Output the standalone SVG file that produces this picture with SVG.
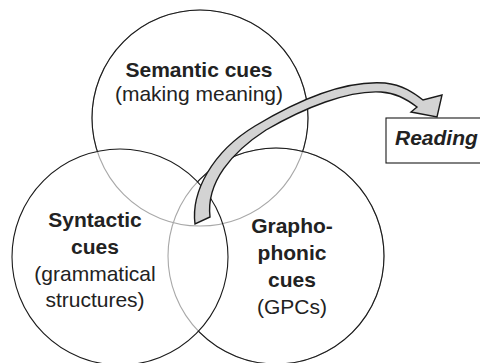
<svg xmlns="http://www.w3.org/2000/svg" width="480" height="363" viewBox="0 0 480 363">
<style>
.c{fill:none;stroke-width:1.1}
.g{stroke:#a8a8a8}
.k{stroke:#1a1a1a}
.t{font-family:"Liberation Sans",Arial,sans-serif;font-size:21px;fill:#222;text-anchor:middle}
.b{font-weight:bold}
</style>
<defs>
<mask id="mTop" maskUnits="userSpaceOnUse" x="0" y="0" width="480" height="363">
<rect width="480" height="363" fill="#fff"/>
<circle cx="276" cy="256" r="108" fill="#000"/>
<circle cx="120" cy="257" r="108" fill="#000"/>
</mask>
<mask id="mRight" maskUnits="userSpaceOnUse" x="0" y="0" width="480" height="363">
<rect width="480" height="363" fill="#fff"/>
<circle cx="120" cy="257" r="108" fill="#000"/>
</mask>
</defs>
<rect width="480" height="363" fill="#fff"/>
<g id="semantic">
<circle class="c g" cx="200" cy="118" r="108"/>
<circle class="c k" cx="200" cy="118" r="108" mask="url(#mTop)"/>
<text class="t b" x="199" y="77">Semantic cues</text>
<text class="t" x="199" y="101">(making meaning)</text>
</g>
<g id="graphophonic">
<circle class="c g" cx="276" cy="256" r="108"/>
<circle class="c k" cx="276" cy="256" r="108" mask="url(#mRight)"/>
<text class="t b" x="292" y="233">Grapho-</text>
<text class="t b" x="292" y="260">phonic</text>
<text class="t b" x="292" y="287">cues</text>
<text class="t" x="292" y="314">(GPCs)</text>
</g>
<g id="syntactic">
<circle class="c k" cx="120" cy="257" r="108"/>
<text class="t b" x="95" y="227">Syntactic</text>
<text class="t b" x="95" y="254">cues</text>
<text class="t" x="95" y="281">(grammatical</text>
<text class="t" x="95" y="307">structures)</text>
</g>
<g id="reading">
<rect x="386" y="118" width="110" height="45" fill="#fff" stroke="#1a1a1a" stroke-width="1.1"/>
<text class="t b" x="395" y="145" style="text-anchor:start;font-style:italic">Reading</text>
</g>
<g id="connectors">
<path d="M195,224 C191,192 212,152 255,126 C298,100 345,80 385,83 C403,85 414,93 423,100 L442,95 L437,117 L411,112 L417,107 C405,98 395,93 381,92 C348,90 304,108 266,130 C232,152 206,182 210,217 Z" fill="#d3d3d3" stroke="#1a1a1a" stroke-width="1.4" stroke-linejoin="miter"/>
</g>
</svg>
